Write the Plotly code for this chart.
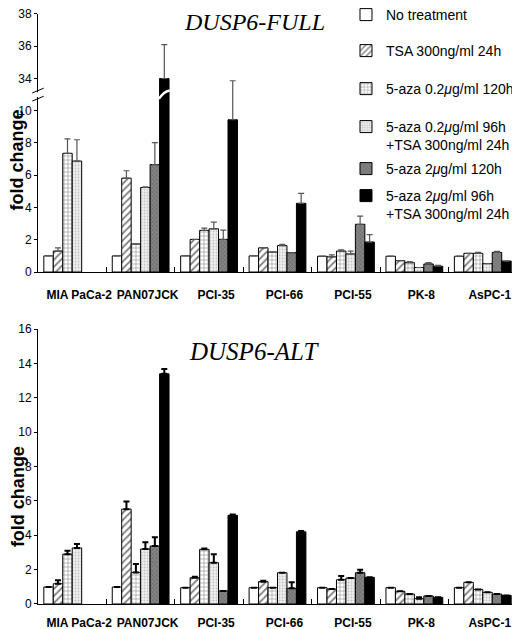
import plotly.graph_objects as go
from plotly.subplots import make_subplots

cell_lines = ["MIA PaCa-2", "PAN07JCK", "PCI-35", "PCI-66", "PCI-55", "PK-8", "AsPC-1"]
series_names = [
    "No treatment",
    "TSA 300ng/ml 24h",
    "5-aza 0.2<i>μ</i>g/ml 120h",
    "5-aza 0.2<i>μ</i>g/ml 96h<br>+TSA 300ng/ml 24h",
    "5-aza 2<i>μ</i>g/ml 120h",
    "5-aza 2<i>μ</i>g/ml 96h<br>+TSA 300ng/ml 24h",
]

# DUSP6-FULL (real fold-change values; upper error)
full_nt = [1.0, 1.0, 1.0, 1.0, 0.98, 0.98, 0.98]
full_nt_err = [None] * 7
full_tsa = [1.3, 5.82, 2.02, 1.5, 0.94, 0.70, 1.16]
full_tsa_err = [0.2, 0.46, None, None, 0.12, None, None]
full_aza02 = [7.36, 1.74, 2.58, 1.24, 1.30, 0.58, 1.16]
full_aza02_err = [0.9, None, 0.14, None, 0.08, 0.06, 0.06]
full_aza02tsa = [6.88, 5.24, 2.68, 1.64, 1.12, 0.28, 0.52]
full_aza02tsa_err = [1.32, 0.04, 0.42, 0.08, 0.18, None, None]
full_aza2 = [None, 6.66, 2.02, 1.2, 2.96, 0.5, 1.22]
full_aza2_err = [None, 1.36, 0.58, None, 0.5, 0.08, 0.06]
full_aza2tsa = [None, 34.0, 9.44, 4.26, 1.86, 0.36, 0.68]
full_aza2tsa_err = [None, 2.1, 2.42, 0.62, 0.46, 0.06, None]

# DUSP6-ALT
alt_nt = [0.99, 0.99, 0.95, 0.95, 0.95, 0.95, 0.95]
alt_nt_err = [None] * 7
alt_tsa = [1.18, 5.52, 1.53, 1.3, 0.87, 0.74, 1.26]
alt_tsa_err = [0.2, 0.45, 0.05, 0.05, None, None, None]
alt_aza02 = [2.9, 1.84, 3.18, 0.95, 1.41, 0.58, 0.85]
alt_aza02_err = [0.2, 0.49, 0.05, None, 0.22, None, None]
alt_aza02tsa = [3.26, 3.2, 2.4, 1.82, 1.51, 0.31, 0.68]
alt_aza02tsa_err = [0.23, 0.4, 0.49, None, None, 0.08, None]
alt_aza2 = [None, 3.37, 0.76, 0.91, 1.82, 0.47, 0.58]
alt_aza2_err = [None, 0.51, None, 0.35, 0.18, None, None]
alt_aza2tsa = [None, 13.39, 5.16, 4.2, 1.55, 0.39, 0.5]
alt_aza2tsa_err = [None, 0.29, 0.05, 0.05, None, None, None]

full_tick_vals = [0, 2, 4, 6, 8, 10, 12, 14, 16]
full_tick_text = ["0", "2", "4", "6", "8", "10", "34", "36", "38"]
alt_tick_vals = [0, 2, 4, 6, 8, 10, 12, 14, 16]

BREAK_SHIFT = 22  # values >= 34 are drawn 22 units lower (broken axis)


def to_axis(v):
    if v is None:
        return None
    return v - BREAK_SHIFT if v >= 34 else v


styles = [
    dict(color="white", pattern=dict(shape="")),
    dict(color="white", pattern=dict(shape="/", fgcolor="black", bgcolor="white", size=5, solidity=0.35)),
    dict(color="white", pattern=dict(shape="+", fgcolor="black", bgcolor="white", size=4, solidity=0.25)),
    dict(color="#e6e6e6", pattern=dict(shape=".", fgcolor="#999999", bgcolor="#eeeeee", size=3, solidity=0.3)),
    dict(color="#6e6e6e", pattern=dict(shape="x", fgcolor="#333333", bgcolor="#858585", size=3, solidity=0.3)),
    dict(color="black", pattern=dict(shape="")),
]

full_sets = [
    (full_nt, full_nt_err), (full_tsa, full_tsa_err), (full_aza02, full_aza02_err),
    (full_aza02tsa, full_aza02tsa_err), (full_aza2, full_aza2_err), (full_aza2tsa, full_aza2tsa_err),
]
alt_sets = [
    (alt_nt, alt_nt_err), (alt_tsa, alt_tsa_err), (alt_aza02, alt_aza02_err),
    (alt_aza02tsa, alt_aza02tsa_err), (alt_aza2, alt_aza2_err), (alt_aza2tsa, alt_aza2tsa_err),
]

legend_ids = ["legend", "legend2", "legend3", "legend4", "legend5", "legend6"]
legend_y = [1.0151, 0.9547, 0.8909, 0.8272, 0.7567, 0.7114]

fig = make_subplots(rows=2, cols=1, vertical_spacing=0.0)

for i, (name, st, (vals, errs)) in enumerate(zip(series_names, styles, full_sets)):
    yv = [to_axis(v) for v in vals]
    fig.add_trace(go.Bar(
        x=cell_lines, y=yv, name=name, legend=legend_ids[i], showlegend=True,
        marker=dict(color=st["color"], pattern=st["pattern"], line=dict(color="black", width=1)),
        error_y=dict(type="data", symmetric=False, array=errs, arrayminus=[0] * 7,
                     color="#555555", thickness=1.2, width=3),
    ), row=1, col=1)

for i, (name, st, (vals, errs)) in enumerate(zip(series_names, styles, alt_sets)):
    fig.add_trace(go.Bar(
        x=cell_lines, y=vals, name=name, showlegend=False,
        marker=dict(color=st["color"], pattern=st["pattern"], line=dict(color="black", width=1)),
        error_y=dict(type="data", symmetric=False, array=errs, arrayminus=[0] * 7,
                     color="black", thickness=2, width=3),
    ), row=2, col=1)

BARGAP = 0.17
axis_font = dict(family="Liberation Sans, Arial", size=12, color="black")

# page body adds an 8px offset, so the figure is 8px smaller than the window
fig.update_layout(
    width=512, height=621,
    margin=dict(l=30, r=3, t=0, b=25, autoexpand=False),
    paper_bgcolor="white", plot_bgcolor="white",
    barmode="group", bargap=BARGAP, bargroupgap=0,
    font=dict(family="Liberation Sans, Arial", color="black"),
    showlegend=True,
)
for lid, ly in zip(legend_ids, legend_y):
    fig.update_layout({lid: dict(x=0.643, y=ly, xanchor="left", yanchor="top", bgcolor="rgba(0,0,0,0)",
                                 font=dict(size=14, family="Liberation Sans, Arial"),
                                 valign="top", itemwidth=30)})

fig.update_xaxes(showline=True, linecolor="black", linewidth=1, ticks="inside", tickson="boundaries",
                 ticklen=5, tickcolor="black", showgrid=False, range=[-0.5, 6.5], tickangle=0,
                 automargin=False,
                 tickfont=dict(family="Liberation Sans, Arial", size=12, color="black"),
                 tickprefix="<b>", ticksuffix="</b>")
fig.update_xaxes(domain=[0, 1])
fig.update_xaxes(ticklabelstandoff=12, ticklabelshift=7, row=1, col=1)
fig.update_xaxes(ticklabelstandoff=8, ticklabelshift=7, row=2, col=1)

fig.update_yaxes(showline=True, linecolor="black", linewidth=1, ticks="outside", ticklen=3,
                 tickcolor="black", showgrid=False, zeroline=False, range=[0, 16], automargin=False,
                 ticklabeloverflow="allow",
                 tickfont=axis_font, tickprefix="<b>", ticksuffix="</b>")
fig.update_yaxes(domain=[0.557, 0.99], tickvals=full_tick_vals, ticktext=full_tick_text, row=1, col=1)
fig.update_yaxes(domain=[0.0, 0.4614], tickvals=alt_tick_vals, row=2, col=1)

# titles
fig.add_annotation(text="<i>DUSP6-FULL</i>", xref="paper", yref="paper", x=0.451, y=0.977,
                   xanchor="center", yanchor="middle",
                   showarrow=False, font=dict(family="Liberation Serif, Times New Roman", size=24, color="black"))
fig.add_annotation(text="<i>DUSP6-ALT</i>", xref="paper", yref="paper", x=0.451, y=0.423,
                   xanchor="center", yanchor="middle",
                   showarrow=False, font=dict(family="Liberation Serif, Times New Roman", size=25, color="black"))
for yc in [0.745, 0.18]:
    fig.add_annotation(text="<b>fold change</b>", xref="paper", yref="paper", x=-0.043, y=yc,
                       xanchor="center", yanchor="middle", textangle=-90, showarrow=False,
                       font=dict(family="Liberation Sans, Arial", size=18, color="black"))

# axis break marks on the top y axis
for dy in [-0.25, 0.25]:
    fig.add_shape(type="line", xref="x domain", yref="y", x0=-0.012, x1=0.012,
                  y0=11 + dy - 0.15, y1=11 + dy + 0.15, line=dict(color="black", width=1))
fig.add_shape(type="line", xref="x domain", yref="y", x0=0, x1=0, y0=10.85, y1=11.15,
              line=dict(color="white", width=2))

# break across the tall PAN07JCK bar
grp = 1 - BARGAP
bw = grp / 6
cx = 1 - grp / 2 + 5.5 * bw
fig.add_shape(type="path", xref="x", yref="y",
              path=f"M {cx - bw/2 - 0.01} 10.75 Q {cx} 11.2 {cx + bw/2 + 0.01} 11.25",
              line=dict(color="white", width=2.5))

fig.write_html("out.html")
